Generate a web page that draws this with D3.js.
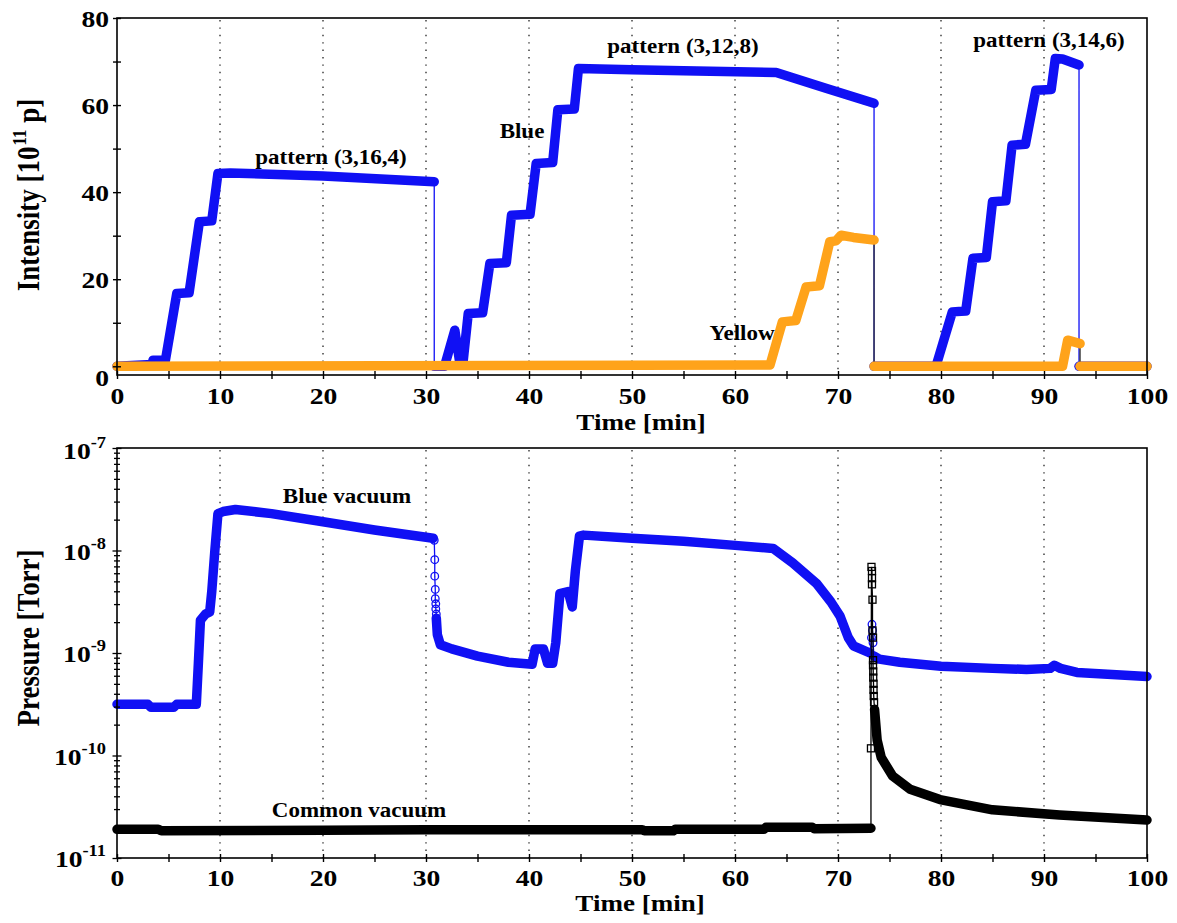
<!DOCTYPE html>
<html>
<head>
<meta charset="utf-8">
<script src="https://cdn.jsdelivr.net/npm/d3@7"></script>
<style>
body { margin: 0; background: #fff; }
text { font-family: "Liberation Serif", "Times New Roman", serif; font-weight: bold; fill: #000; }
</style>
</head>
<body>
<div id="vis"></div>
<script>
// ---- data ----
// top panel: [time min, intensity 1e11 p]
var blueRun1 = [[0,0],[3.4,0.4],[3.5,1.4],[4.7,1.4],[5.8,16.7],[7.0,16.9],[8.0,33.2],[9.2,33.4],[9.8,44.3],[11,44.4],[20,43.7],[30.8,42.4]];
var blueRun2 = [[30.8,0],[31.8,0],[32.8,8.3],[33.3,0.5],[33.6,1],[34.1,12.1],[35.5,12.3],[36.2,23.6],[37.8,23.8],[38.3,34.7],[40.1,34.9],[40.7,46.6],[42.3,46.8],[42.8,58.9],[44.4,59.1],[44.8,68.4],[50,68.1],[55,67.9],[64,67.5],[68.9,63.8],[73.5,60.4]];
var blueRun3 = [[73.5,0],[79.4,0],[79.6,0.7],[81.1,12.5],[82.4,12.7],[83.1,24.8],[84.4,25.0],[85.0,37.8],[86.3,38.0],[86.9,50.8],[88.2,51.0],[89.2,63.4],[90.7,63.6],[91.1,70.7],[91.8,70.6],[93.4,69.2]];
var blueRun4 = [[93.4,0],[100,0]];

var yellowRun1 = [[0,0],[63.4,0.3],[64.6,10.2],[65.9,10.5],[66.9,18.2],[68.2,18.5],[69.2,28.6],[69.8,28.8],[70.3,30.1],[71.5,29.6],[73.5,29.0]];
var yellowRun2 = [[73.5,0],[91.8,0],[92.3,6.0],[93.5,5.2]];
var yellowRun3 = [[93.5,0],[100,0]];

// bottom panel: [time min, log10 pressure Torr]
var blueVac1 = [[0,-9.50],[3.0,-9.50],[3.3,-9.53],[5.5,-9.53],[5.8,-9.50],[7.7,-9.50],[7.9,-9.1],[8.1,-8.68],[8.6,-8.62],[9.0,-8.60],[9.2,-8.4],[9.5,-8.0],[9.8,-7.64],[10.3,-7.62],[11.5,-7.60],[15,-7.64],[20,-7.72],[25,-7.80],[30.7,-7.88]];
var blueVacDrop = [[30.8,-7.90],[30.85,-8.09],[30.85,-8.25],[30.9,-8.38],[30.9,-8.47],[30.95,-8.52],[30.95,-8.57],[31.0,-8.62]];
var blueVac2 = [[31.0,-8.66],[31.1,-8.82],[31.4,-8.92],[32.5,-8.96],[35,-9.03],[38,-9.09],[40.3,-9.11],[40.6,-8.96],[41.4,-8.96],[41.8,-9.1],[42.3,-9.1],[42.6,-8.9],[43.0,-8.42],[43.8,-8.40],[44.2,-8.55],[44.5,-8.2],[44.9,-7.86],[45.3,-7.85],[50,-7.88],[55,-7.91],[60,-7.95],[63.7,-7.98],[65.6,-8.12],[67.9,-8.32],[69.3,-8.50],[70.2,-8.64],[71.0,-8.85],[71.5,-8.93],[73.1,-9.0]];
var blueVacSpike = [[73.25,-8.85],[73.3,-8.72],[73.35,-8.78],[73.4,-8.9]];
var blueVac3 = [[73.5,-9.03],[74,-9.06],[76,-9.09],[80,-9.13],[85,-9.15],[88.3,-9.16],[90.6,-9.15],[91.0,-9.12],[91.6,-9.15],[93.2,-9.19],[100,-9.23]];

var common1 = [[0,-10.72],[4,-10.72],[4.3,-10.735],[20,-10.73],[30,-10.725],[51,-10.725],[51.2,-10.735],[54,-10.735],[54.2,-10.72],[62.8,-10.72],[63,-10.70],[67.5,-10.70],[67.7,-10.715],[73.2,-10.71]];
var commonSpike = [[73.2,-9.93],[73.25,-8.16],[73.3,-8.2],[73.3,-8.27],[73.3,-8.33],[73.35,-8.48],[73.35,-8.78],[73.4,-8.85],[73.4,-9.07],[73.4,-9.12],[73.42,-9.18],[73.42,-9.24],[73.45,-9.3],[73.45,-9.36],[73.47,-9.42],[73.5,-9.48]];
var common2 = [[73.55,-9.55],[73.8,-9.85],[74.2,-10.02],[75.3,-10.2],[77,-10.33],[79.9,-10.43],[85,-10.53],[91.5,-10.58],[100,-10.63]];

// ticks
var xTickVals = [0,5,10,15,20,25,30,35,40,45,50,55,60,65,70,75,80,85,90,95,100];
var xLabelVals = [0,10,20,30,40,50,60,70,80,90,100];
var gridVals = [10,20,30,40,50,60,70,80,90];
var yTopTicks = [0,10,20,30,40,50,60,70,80];
var yTopLabels = [0,20,40,60,80];
var decades = [-11,-10,-9,-8,-7];
var minorMult = [2,3,4,5,6,7,8,9];

// ---- layout ----
var w = 1177, h = 923, SX = 1.15,
    blue = "#1010f4", orange = "#ffa31a";

var x = d3.scaleLinear().domain([0, 100]).range([117, 1147]);
var yI = d3.scaleLinear().domain([-2, 80]).range([375, 18]);
var yP = d3.scaleLog().domain([1e-11, 1e-7]).range([858, 448]);

var svg = d3.select("#vis").append("svg")
            .attr("width", w)
            .attr("height", h);

function addText(str, px, py, size, anchor) {
    return svg.append("text")
              .attr("transform", "translate(" + px + "," + py + ") scale(" + SX + ",1)")
              .attr("text-anchor", anchor || "middle")
              .style("font-size", size + "px")
              .text(str);
}

// dotted grid
function grid(top, bottom) {
    svg.selectAll(null)
       .data(gridVals)
       .enter()
       .append("line")
       .attr("x1", function(d) { return x(d); })
       .attr("x2", function(d) { return x(d); })
       .attr("y1", top)
       .attr("y2", bottom)
       .attr("stroke", "#333")
       .attr("stroke-width", 1.4)
       .attr("stroke-dasharray", "1.4,6");
}
grid(yI(80) + 2, yI(-2));
grid(yP(1e-7) + 2, yP(1e-11));

// series: thin connector through all points, thick band for dense runs, hollow marks for sparse ones
function series(runs, fy, color, thin, shape) {
    var line = d3.line().x(function(d) { return x(d[0]); }).y(fy);
    var all = d3.merge(runs.map(function(r) { return r.pts; }));
    svg.append("path")
       .datum(all)
       .attr("d", line)
       .attr("fill", "none")
       .attr("stroke", thin)
       .attr("stroke-width", 1.3);
    runs.forEach(function(r) {
        if (r.hollow) {
            if (shape == "square") {
                svg.selectAll(null).data(r.pts).enter().append("rect")
                   .attr("x", function(d) { return x(d[0]) - 3.5; })
                   .attr("y", function(d) { return fy(d) - 3.5; })
                   .attr("width", 7).attr("height", 7)
                   .attr("fill", "none").attr("stroke", color).attr("stroke-width", 1.3);
            } else {
                svg.selectAll(null).data(r.pts).enter().append("circle")
                   .attr("cx", function(d) { return x(d[0]); })
                   .attr("cy", fy)
                   .attr("r", 3.8)
                   .attr("fill", "none").attr("stroke", color).attr("stroke-width", 1.3);
            }
        } else {
            svg.append("path")
               .datum(r.pts)
               .attr("d", line)
               .attr("fill", "none")
               .attr("stroke", color)
               .attr("stroke-width", 9.5)
               .attr("stroke-linejoin", "round")
               .attr("stroke-linecap", "round");
        }
    });
}

var fyTop = function(d) { return yI(d[1]); };
var fyBot = function(d) { return yP(Math.pow(10, d[1])); };

series([{pts: blueRun1}, {pts: blueRun2}, {pts: blueRun3}, {pts: blueRun4}], fyTop, blue, blue);
series([{pts: yellowRun1}, {pts: yellowRun2}, {pts: yellowRun3}], fyTop, orange, "#333");

series([{pts: blueVac1}, {pts: blueVacDrop, hollow: true}, {pts: blueVac2},
        {pts: blueVacSpike, hollow: true}, {pts: blueVac3}], fyBot, blue, blue, "circle");
series([{pts: common1}, {pts: commonSpike, hollow: true}, {pts: common2}], fyBot, "#000", "#000", "square");

/**********************
 FRAMES, AXES AND TICKS
**********************/

function frame(top, bottom) {
    svg.append("rect")
       .attr("x", x(0)).attr("y", top)
       .attr("width", x(100) - x(0)).attr("height", bottom - top)
       .attr("fill", "none").attr("stroke", "#000").attr("stroke-width", 1.6);
}
frame(yI(80), yI(-2));
frame(yP(1e-7), yP(1e-11));

function xAxis(yPos, labelDrop) {
    var g = svg.append("g")
               .attr("transform", "translate(0," + yPos + ")")
               .call(d3.axisBottom(x).tickValues(xTickVals).tickSize(4)
                       .tickFormat(function(d) { return xLabelVals.indexOf(d) >= 0 ? d : ""; }));
    g.select(".domain").remove();
    g.selectAll(".tick line").attr("y1", -4).attr("y2", 4).attr("stroke-width", 1.4);
    g.selectAll(".tick text")
     .attr("y", null).attr("dy", null)
     .attr("transform", "translate(0," + labelDrop + ") scale(" + SX + ",1)")
     .style("font-size", "24px")
     .style("font-family", null);
}
xAxis(yI(-2), 29);
xAxis(yP(1e-11), 28);

// top y axis
var gy = svg.append("g")
            .attr("transform", "translate(" + x(0) + ",0)")
            .call(d3.axisLeft(yI).tickValues(yTopTicks).tickSize(4)
                    .tickFormat(function(d) { return yTopLabels.indexOf(d) >= 0 ? d : ""; }));
gy.select(".domain").remove();
gy.selectAll(".tick line").attr("x1", -4).attr("x2", 4).attr("stroke-width", 1.4);
gy.selectAll(".tick text")
  .attr("x", null).attr("dy", null)
  .attr("transform", function(d) { return "translate(-8," + (d === 0 ? 19.5 : 8) + ") scale(" + SX + ",1)"; })
  .style("font-size", "24px")
  .style("font-family", null);

// bottom y axis, log
var logTicks = [];
decades.forEach(function(e) {
    logTicks.push(Math.pow(10, e));
    if (e < -7) minorMult.forEach(function(m) { logTicks.push(m * Math.pow(10, e)); });
});
function isDecade(d) {
    var l = Math.log10(d);
    return Math.abs(l - Math.round(l)) < 1e-6;
}
var gl = svg.append("g")
            .attr("transform", "translate(" + x(0) + ",0)")
            .call(d3.axisLeft(yP).tickValues(logTicks).tickSize(4).tickFormat(""));
gl.select(".domain").remove();
gl.selectAll(".tick line")
  .attr("x1", function(d) { return isDecade(d) ? -4.5 : -3; })
  .attr("x2", function(d) { return isDecade(d) ? 4.5 : 3; })
  .attr("stroke-width", 1.3);

decades.forEach(function(e) {
    var t = svg.append("text")
               .attr("transform", "translate(" + (x(0) - 11) + "," + (yP(Math.pow(10, e)) + (e === -7 ? 11 : 9)) + ") scale(" + SX + ",1)")
               .attr("text-anchor", "end")
               .style("font-size", "24px");
    t.append("tspan").text("10");
    t.append("tspan").attr("dy", -11).style("font-size", "16px").text(String(e));
});

// axis titles
addText("Time [min]", 641, 430, 23.5);
addText("Time [min]", 640, 911, 23.5);

var ti = svg.append("text")
            .attr("transform", "translate(39,195) scale(" + SX + ",1) rotate(-90)")
            .attr("text-anchor", "middle")
            .style("font-size", "27px");
ti.append("tspan").text("Intensity [10");
ti.append("tspan").attr("dy", -11).attr("dx", 1).style("font-size", "17px").text("11");
ti.append("tspan").attr("dy", 11).text(" p]");

svg.append("text")
   .attr("transform", "translate(39,638) scale(" + SX + ",1) rotate(-90)")
   .attr("text-anchor", "middle")
   .style("font-size", "27px")
   .text("Pressure [Torr]");

// annotations
addText("pattern (3,16,4)", 331, 164, 20);
addText("pattern (3,12,8)", 683, 53, 20);
addText("pattern (3,14,6)", 1049, 47, 20);
addText("Blue", 522, 138, 20);
addText("Yellow", 742, 340, 20);
addText("Blue vacuum", 347, 503, 20);
addText("Common vacuum", 359, 817, 20);
</script>
</body>
</html>
